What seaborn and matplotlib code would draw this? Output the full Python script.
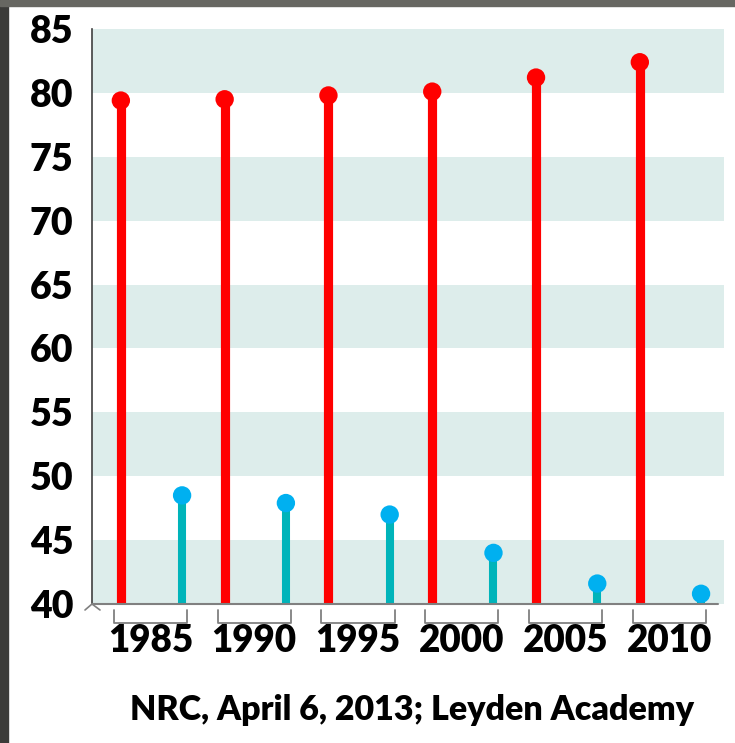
import numpy as np
import pandas as pd
import matplotlib
matplotlib.use("Agg")
import matplotlib.pyplot as plt
import matplotlib.transforms as mtransforms
import seaborn as sns
from matplotlib.patches import Rectangle

# ---- data ----
years = ["1985", "1990", "1995", "2000", "2005", "2010"]
red_values = [79.4, 79.5, 79.8, 80.1, 81.2, 82.4]
blue_values = [48.5, 47.9, 47.0, 44.0, 41.6, 40.8]
y_ticks = [40, 45, 50, 55, 60, 65, 70, 75, 80, 85]
source_text = "NRC, April 6, 2013; Leyden Academy"

sns.set_theme(style="white")
plt.rcParams["font.family"] = ["Lato", "DejaVu Sans"]
WEIGHT = "heavy"

W, H = 735, 743
fig = plt.figure(figsize=(W / 100, H / 100), dpi=100)
fig.patch.set_facecolor("white")

# dark photo frame on the left and top edge
fig.patches.append(Rectangle((0, 0), 8 / W, 1, transform=fig.transFigure,
                             color="#3b3b39", zorder=0))
fig.patches.append(Rectangle((0, 1 - 6 / H), 1, 6 / H, transform=fig.transFigure,
                             color="#676762", zorder=0))

ax_l, ax_r, ax_t, ax_b = 92, 724, 29, 604
ax = fig.add_axes([ax_l / W, 1 - ax_b / H, (ax_r - ax_l) / W, (ax_b - ax_t) / H])
ax.set_facecolor("white")

df = pd.DataFrame({
    "year": years * 2,
    "value": red_values + blue_values,
    "series": ["red"] * len(years) + ["blue"] * len(years),
})
idx = np.tile(np.arange(len(years)), 2)
df["x"] = idx + np.where(df["series"] == "red", -0.295, 0.295)

# alternating bands
for lo in range(40, 85, 10):
    ax.axhspan(lo, lo + 5, color="#DDEDEB", lw=0, zorder=0)

# stems
red = df[df["series"] == "red"]
blue = df[df["series"] == "blue"]
ax.vlines(red["x"], 40, red["value"], color="#FF0000", lw=6.6, zorder=2)
ax.vlines(blue["x"], 40, blue["value"], color="#00B4BA", lw=5.8, zorder=2)

# heads
sns.scatterplot(data=df, x="x", y="value", hue="series",
                palette={"red": "#FF0000", "blue": "#00B0F0"},
                s=175, linewidth=0, legend=False, zorder=3, ax=ax)

ax.set_xlim(-0.573, 5.516)
ax.set_ylim(40, 85)
ax.set_xlabel("")
ax.set_ylabel("")

ax.set_yticks(y_ticks)
ax.set_yticklabels([str(t) for t in y_ticks], fontsize=27, fontweight=WEIGHT, color="black")
ax.tick_params(axis="y", length=0, pad=13.5)
ax.set_xticks([])

for side in ["top", "right", "bottom"]:
    ax.spines[side].set_visible(False)
ax.spines["left"].set_color("#404040")
ax.spines["left"].set_linewidth(1.2)

# bottom axis line and little corner caret
aw, ah = ax_r - ax_l, ax_b - ax_t
ax.plot([0, 626 / aw], [0, 0], color="#808080", lw=1.5, transform=ax.transAxes, clip_on=False, zorder=4)
ax.plot([-7 / aw, 0, 8 / aw], [-6 / ah, 0, -6 / ah], color="#808080", lw=1.2,
        transform=ax.transAxes, clip_on=False, zorder=4)

# bracket ticks and year labels
trans = mtransforms.blended_transform_factory(ax.transData, ax.transAxes)
y_top, y_bot = -6 / ah, -19 / ah
for i, yr in enumerate(years):
    x0, x1 = i - 0.362, i + 0.343
    ax.plot([x0, x0, x1, x1], [y_top, y_bot, y_bot, y_top], color="#808080", lw=1.3,
            transform=trans, clip_on=False)
    ax.text(i - 0.01, -37 / ah, yr, transform=trans, ha="center", va="center",
            fontsize=26.5, fontweight=WEIGHT, color="black")

fig.text(412 / W, 1 - 710 / H, source_text, ha="center", va="center",
         fontsize=24.5, fontweight=WEIGHT, color="black")

fig.savefig("out.png", dpi=100, facecolor=fig.get_facecolor())
